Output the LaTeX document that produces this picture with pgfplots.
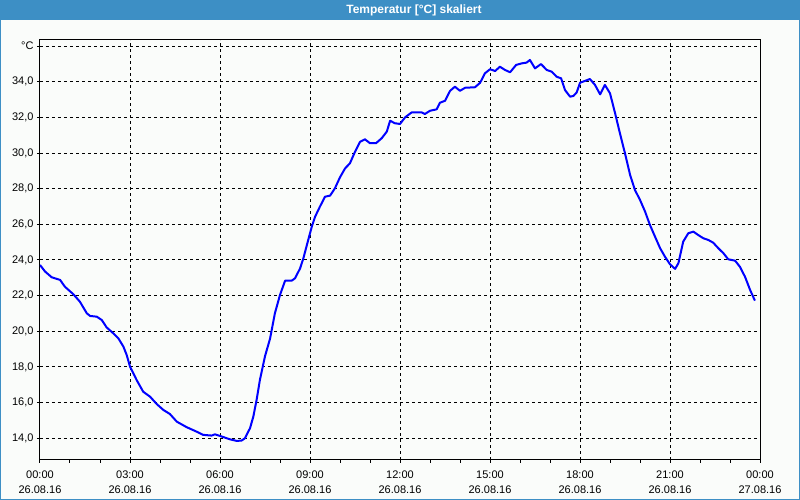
\documentclass[border=0pt]{standalone}
\usepackage{fontspec}
\setmainfont{Liberation Sans}
\usepackage{pgfplots}
\pgfplotsset{compat=1.18}

\definecolor{titlebar}{RGB}{61,143,197}
\definecolor{panel}{RGB}{250,252,250}

% Temperatur 26.08.16, Stunden seit 00:00 / Grad C
\pgfplotstableread{
h     t
0.00  23.72
0.17  23.35
0.39  23.03
0.67  22.88
0.83  22.50
1.11  22.08
1.33  21.66
1.56  21.01
1.67  20.86
1.89  20.82
2.06  20.63
2.22  20.22
2.44  19.89
2.61  19.61
2.78  19.14
2.89  18.67
3.00  18.02
3.22  17.27
3.44  16.61
3.67  16.33
3.89  15.92
4.11  15.59
4.33  15.36
4.56  14.93
4.89  14.62
5.22  14.37
5.44  14.19
5.72  14.15
5.83  14.22
6.00  14.13
6.33  13.94
6.56  13.85
6.72  13.87
6.83  14.00
7.00  14.56
7.11  15.21
7.22  16.15
7.33  17.27
7.50  18.60
7.67  19.60
7.83  21.01
8.00  22.04
8.17  22.84
8.39  22.84
8.50  22.97
8.67  23.53
8.78  24.10
8.94  25.12
9.06  25.87
9.17  26.43
9.33  26.99
9.50  27.55
9.67  27.61
9.83  28.02
10.00 28.64
10.17 29.14
10.33 29.42
10.50 30.07
10.67 30.63
10.83 30.77
11.00 30.55
11.20 30.55
11.39 30.83
11.56 31.20
11.67 31.81
11.83 31.67
12.00 31.63
12.17 32.00
12.39 32.28
12.72 32.28
12.83 32.19
13.00 32.37
13.22 32.45
13.33 32.82
13.50 32.93
13.67 33.49
13.83 33.72
14.00 33.49
14.17 33.66
14.50 33.69
14.67 33.94
14.83 34.47
15.00 34.70
15.17 34.60
15.33 34.84
15.50 34.66
15.67 34.53
15.87 34.94
16.06 35.03
16.22 35.07
16.33 35.22
16.50 34.75
16.70 34.99
16.89 34.66
17.06 34.56
17.22 34.28
17.37 34.19
17.50 33.53
17.67 33.16
17.78 33.20
17.89 33.40
18.00 33.94
18.33 34.15
18.50 33.82
18.67 33.29
18.83 33.82
19.00 33.35
19.17 32.23
19.33 31.11
19.50 29.98
19.67 28.77
19.83 27.93
20.00 27.37
20.17 26.71
20.33 25.97
20.50 25.31
20.67 24.66
20.83 24.19
21.00 23.76
21.17 23.50
21.28 23.82
21.44 25.03
21.61 25.50
21.78 25.59
21.94 25.40
22.11 25.22
22.28 25.12
22.44 24.97
22.61 24.66
22.78 24.38
22.94 24.04
23.17 23.96
23.33 23.62
23.50 23.06
23.67 22.32
23.83 21.72
}\temperatur

\begin{document}
\begin{tikzpicture}[x=1pt,y=1pt]
    \fill[panel] (0,0) rectangle (800,500);
    \fill[titlebar] (0,480) rectangle (800,500);
    \draw[titlebar, line width=1pt] (0.5,0.5) rectangle (799.5,499.5);
    \node[white, font=\fontsize{12}{14}\selectfont\bfseries] at (414,490) {Temperatur [°C] skaliert};

    \begin{axis}[
        at={(40pt,40pt)}, anchor=south west,
        scale only axis,
        width=720pt, height=420pt,
        xmin=0, xmax=24,
        ymin=12.78, ymax=36.34,
        xtick={0,3,...,24},
        xticklabels={{00:00\\26.08.16},{03:00\\26.08.16},{06:00\\26.08.16},
            {09:00\\26.08.16},{12:00\\26.08.16},{15:00\\26.08.16},
            {18:00\\26.08.16},{21:00\\26.08.16},{00:00\\27.08.16}},
        minor xtick={1,2,4,5,7,8,10,11,13,14,16,17,19,20,22,23},
        ytick={14,16,...,36},
        yticklabels={{14,0},{16,0},{18,0},{20,0},{22,0},{24,0},{26,0},
            {28,0},{30,0},{32,0},{34,0},{°C}},
        grid=major,
        major grid style={black, line width=1pt, dash pattern=on 3pt off 3pt},
        axis line style={black, line width=1pt},
        tick align=outside,
        tick pos=left,
        major tick length=3pt,
        minor tick length=3pt,
        every tick/.style={black, line width=1pt},
        xticklabel style={align=center, font=\fontsize{11}{15}\selectfont, yshift=-4pt},
        yticklabel style={font=\fontsize{11}{13}\selectfont},
    ]
    \addplot[blue, line width=2pt, line join=round] table[x=h, y=t] {\temperatur};
    \end{axis}

    \pgfresetboundingbox
    \useasboundingbox (0,0) rectangle (800,500);
\end{tikzpicture}
\end{document}
